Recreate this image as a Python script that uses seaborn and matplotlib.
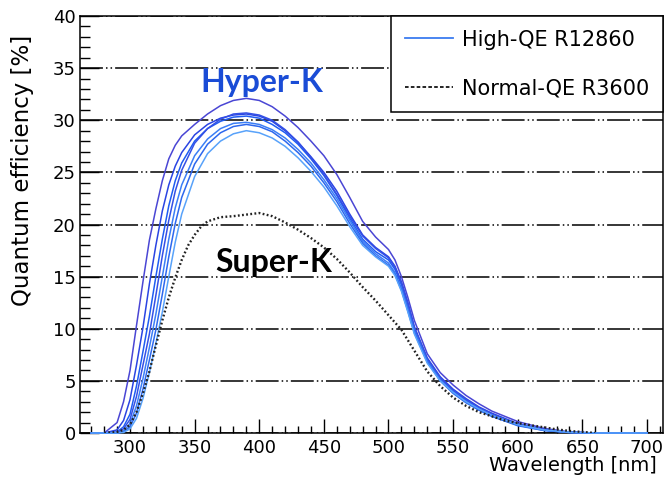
import matplotlib
matplotlib.use("Agg")
import matplotlib.pyplot as plt
from matplotlib.lines import Line2D
from matplotlib.ticker import MultipleLocator
import numpy as np
import pandas as pd
import seaborn as sns

# ---------------- data ----------------
wl_hk = [270, 280, 290, 295, 300, 305, 310, 315, 320, 325, 330, 335, 340, 350, 360, 370,
         380, 390, 400, 410, 420, 430, 440, 450, 460, 470, 480, 490, 500, 505, 510, 515,
         520, 530, 540, 550, 560, 570, 580, 600, 620, 640, 660, 700]

qe_hk_a = [0, 0, 1.0, 3.0, 6.0, 10.3, 14.5, 18.5, 21.5, 24.2, 26.3, 27.6, 28.5, 29.6, 30.6, 31.4,
           31.9, 32.1, 31.9, 31.3, 30.4, 29.3, 28.0, 26.6, 24.8, 22.6, 20.3, 18.8, 17.6, 16.6, 15.0, 13.0,
           10.8, 7.6, 5.8, 4.6, 3.6, 2.8, 2.1, 1.1, 0.45, 0.1, 0, 0]
qe_hk_b = [0, 0, 0.3, 1.2, 3.2, 6.5, 10.1, 14.3, 18.0, 21.3, 23.8, 25.6, 26.9, 28.6, 29.6, 30.2,
           30.5, 30.6, 30.4, 29.9, 29.0, 27.9, 26.5, 25.0, 23.2, 21.0, 19.0, 17.8, 16.9, 16.0, 14.5, 12.5,
           10.2, 7.2, 5.4, 4.2, 3.3, 2.5, 1.9, 0.9, 0.35, 0.08, 0, 0]
qe_hk_c = [0, 0, 0.1, 0.6, 1.8, 4.5, 7.8, 11.2, 15.0, 18.6, 21.8, 24.2, 25.9, 28.0, 29.2, 29.9,
           30.3, 30.4, 30.2, 29.6, 28.8, 27.7, 26.3, 24.7, 22.8, 20.6, 18.6, 17.4, 16.6, 15.7, 14.2, 12.2,
           10.0, 7.0, 5.2, 4.0, 3.1, 2.3, 1.7, 0.8, 0.3, 0.05, 0, 0]
qe_hk_d = [0, 0, 0.05, 0.4, 1.3, 3.5, 6.5, 9.5, 13.2, 17.0, 20.4, 23.2, 25.2, 27.8, 29.2, 30.1,
           30.6, 30.7, 30.5, 30.0, 29.1, 27.9, 26.4, 24.8, 22.9, 20.8, 18.9, 17.7, 16.8, 15.9, 14.4, 12.4,
           10.1, 7.1, 5.3, 4.1, 3.2, 2.4, 1.8, 0.85, 0.3, 0.06, 0, 0]
qe_hk_e = [0, 0, 0, 0.2, 0.9, 2.6, 5.2, 8.2, 11.4, 15.0, 18.6, 21.6, 23.8, 26.6, 28.2, 29.2,
           29.7, 29.8, 29.6, 29.1, 28.3, 27.2, 25.9, 24.3, 22.5, 20.4, 18.4, 17.2, 16.3, 15.4, 13.9, 11.9,
           9.8, 6.9, 5.1, 3.9, 3.0, 2.2, 1.6, 0.75, 0.25, 0.05, 0, 0]
qe_hk_f = [0, 0, 0, 0.1, 0.6, 1.9, 4.2, 7.0, 9.9, 13.3, 16.9, 20.1, 22.6, 25.8, 27.7, 28.8,
           29.4, 29.6, 29.4, 28.9, 28.0, 26.9, 25.6, 24.0, 22.2, 20.1, 18.2, 17.0, 16.1, 15.2, 13.7, 11.7,
           9.6, 6.8, 5.0, 3.8, 2.9, 2.2, 1.6, 0.7, 0.25, 0.05, 0, 0]
qe_hk_g = [0, 0, 0, 0.05, 0.4, 1.4, 3.3, 5.8, 8.6, 11.6, 15.0, 18.3, 21.0, 24.6, 26.8, 28.0,
           28.7, 29.0, 28.8, 28.3, 27.5, 26.4, 25.1, 23.6, 21.8, 19.8, 18.0, 16.9, 16.0, 15.1, 13.6, 11.6,
           9.5, 6.7, 5.0, 3.9, 3.0, 2.3, 1.7, 0.8, 0.3, 0.07, 0, 0]

wl_sk = [280, 290, 295, 300, 305, 310, 315, 320, 325, 330, 335, 340, 345, 350, 355, 360, 370,
         380, 390, 400, 410, 420, 430, 440, 450, 460, 470, 480, 490, 500, 510, 520, 530, 540,
         550, 560, 570, 580, 590, 600, 610, 620, 630, 640, 650, 660]
qe_sk = [0, 0.1, 0.3, 0.8, 2.0, 3.8, 5.9, 8.4, 10.8, 13.0, 14.9, 16.6, 18.0, 19.0, 19.8, 20.3, 20.7,
         20.8, 20.95, 21.1, 20.8, 20.2, 19.5, 18.7, 17.8, 16.7, 15.4, 14.0, 12.7, 11.3, 9.9, 7.9, 5.9, 4.5,
         3.4, 2.6, 2.0, 1.6, 1.2, 0.95, 0.75, 0.55, 0.35, 0.2, 0.1, 0]

hk_names = ["PMT-A", "PMT-B", "PMT-C", "PMT-D", "PMT-E", "PMT-F", "PMT-G"]
hk_series = [qe_hk_a, qe_hk_b, qe_hk_c, qe_hk_d, qe_hk_e, qe_hk_f, qe_hk_g]
hk_colors = ["#4a46d4", "#2a44e2", "#1f5cf2", "#3450e6", "#3b7ef6", "#2d68ee", "#58a2fa"]

legend_labels = ["High-QE R12860", "Normal-QE R3600"]
x_label = "Wavelength [nm]"
y_label = "Quantum efficiency [%]"

# ---------------- figure ----------------
plt.rcParams["lines.scale_dashes"] = False
plt.rcParams["font.family"] = ["DejaVu Sans"]

fig = plt.figure(figsize=(6.66, 4.82), dpi=100)
ax = fig.add_axes([80 / 666, 1 - 433 / 482, (663 - 80) / 666, (433 - 16) / 482])

df_hk = pd.concat(
    [pd.DataFrame({"wl": wl_hk, "qe": s, "pmt": n}) for n, s in zip(hk_names, hk_series)],
    ignore_index=True,
)
sns.lineplot(data=df_hk, x="wl", y="qe", hue="pmt", palette=dict(zip(hk_names, hk_colors)),
             estimator=None, sort=False, legend=False, linewidth=1.1, ax=ax,
             zorder=3, clip_on=False)

df_sk = pd.DataFrame({"wl": wl_sk, "qe": qe_sk})
sns.lineplot(data=df_sk, x="wl", y="qe", color="#222222", linewidth=1.7,
             dashes=False, estimator=None, sort=False, ax=ax, zorder=4)
ax.lines[-1].set_dashes((1.3, 1.7))

ax.set_xlim(261.3, 712.4)
ax.set_ylim(0, 40)
ax.xaxis.set_major_locator(MultipleLocator(50))
ax.xaxis.set_minor_locator(MultipleLocator(10))
ax.yaxis.set_major_locator(MultipleLocator(5))
ax.yaxis.set_minor_locator(MultipleLocator(1))

ax.tick_params(axis="both", which="both", direction="in", colors="black", width=1.0,
               labelsize=13, top=False, right=False)
ax.tick_params(axis="x", which="major", length=10, pad=4.5)
ax.tick_params(axis="x", which="minor", length=5.2)
ax.tick_params(axis="y", which="major", length=14, pad=3)
ax.tick_params(axis="y", which="minor", length=7.5)

for sp in ax.spines.values():
    sp.set_linewidth(1.1)
    sp.set_color("black")

ax.set_axisbelow(True)
ax.yaxis.grid(True, color="black", linewidth=1.1,
              linestyle=(0, (16.5, 2.2, 1.1, 2.2, 1.1, 2.2)))
ax.xaxis.grid(False)

ax.set_xlabel(x_label, fontsize=14, ha="right", va="center")
ax.xaxis.set_label_coords((657 - 80) / 583, (433.2 - 466) / 417)
ax.set_ylabel(y_label, fontsize=16.5, ha="center", va="center")
ax.yaxis.set_label_coords((23 - 80) / 583, (433.2 - 170.5) / 417)

ax.text(402, 32.7, "Hyper-K", fontsize=23, fontweight="bold", family=["Lato", "DejaVu Sans"],
        color="#1a4cd6", ha="center", va="baseline", zorder=6)
ax.text(411.5, 15.45, "Super-K", fontsize=23, fontweight="bold", family=["Lato", "DejaVu Sans"],
        color="black", ha="center", va="baseline", zorder=6)

handles = [Line2D([], [], color="#3c7cf0", linewidth=1.3),
           Line2D([], [], color="black", linewidth=1.2, dashes=(2.6, 1.6))]
leg = ax.legend(handles, legend_labels, loc="upper right", bbox_to_anchor=(1, 1),
                borderaxespad=0, frameon=True, fancybox=False, framealpha=1,
                edgecolor="black", fontsize=15, handlelength=2.3, handletextpad=0.45,
                borderpad=0.65, labelspacing=1.4)
leg.get_frame().set_linewidth(1.1)
leg.set_zorder(10)

fig.savefig("out.png", dpi=100)
